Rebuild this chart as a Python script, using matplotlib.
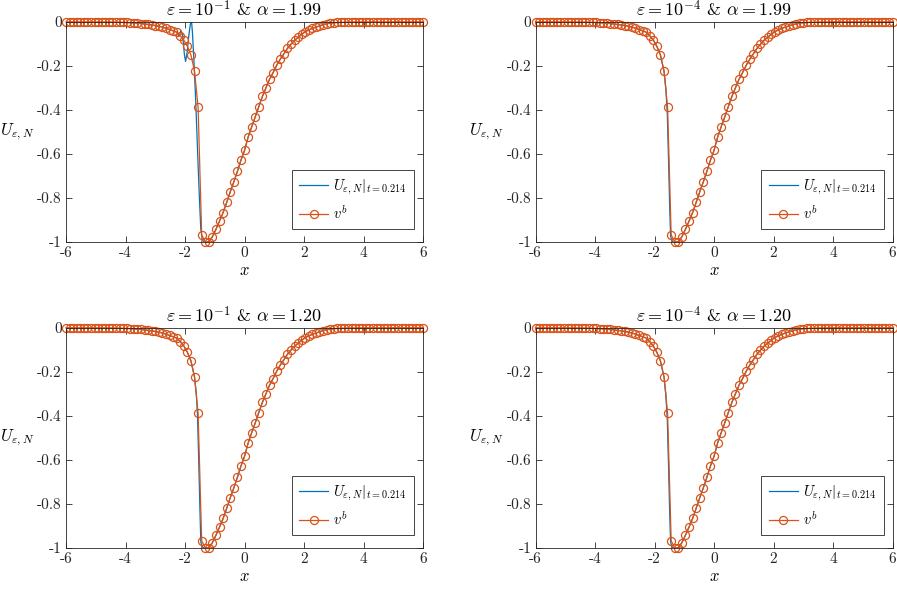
import numpy as np
import matplotlib
matplotlib.use("Agg")
import matplotlib.pyplot as plt

plt.rcParams["mathtext.fontset"] = "cm"
plt.rcParams["axes.unicode_minus"] = False

# grid of the reference solution v^b (101 nodes on [-6, 6])
x_grid = np.linspace(-6, 6, 101)

# v^b values, left tail -> front -> right tail
v_b = [
    0, 0, 0, 0, 0, 0, 0, 0, -0.0002, -0.0003, -0.0004, -0.0005, -0.0007, -0.0009, -0.0012, -0.0015,
    -0.0025, -0.003, -0.004, -0.005, -0.006, -0.008, -0.010, -0.012, -0.014, -0.017, -0.020, -0.024,
    -0.029, -0.035, -0.041, -0.047, -0.063, -0.083, -0.112, -0.151, -0.224, -0.389, -0.967,
    -1.000, -0.998, -0.976, -0.942, -0.905, -0.866, -0.820, -0.772, -0.727, -0.679, -0.628,
    -0.584, -0.524, -0.477, -0.432, -0.385, -0.339, -0.300, -0.261, -0.231, -0.198, -0.170,
    -0.146, -0.121, -0.102, -0.084, -0.071, -0.057, -0.045, -0.037, -0.030, -0.024, -0.019,
    -0.013, -0.009, -0.006, -0.004, -0.003, -0.002, -0.0015, -0.001, -0.0007, -0.0005,
    -0.0003, -0.0002, -0.0001, -0.0001,
    -0.0001, -0.0001, 0, 0, 0, 0, 0, 0, 0, 0, 0, 0, 0, 0, 0,
]
v_b = np.array(v_b)
assert len(v_b) == len(x_grid)

# U_{eps,N} differs from v^b only around the front; these are the front points
front_x_e1_a199 = [-2.28, -2.20, -2.14, -2.08, -2.02, -1.98, -1.93, -1.87, -1.82, -1.78, -1.75,
                   -1.70, -1.64, -1.58, -1.52, -1.47, -1.42, -1.36]
front_y_e1_a199 = [-0.047, -0.065, -0.040, -0.060, -0.150, -0.180, -0.140, -0.060, -0.010, 0.0, -0.050,
                   -0.180, -0.360, -0.580, -0.790, -0.940, -0.990, -1.0]
front_x_e4_a199 = [-1.68, -1.62, -1.57, -1.53, -1.49, -1.46, -1.42, -1.36]
front_y_e4_a199 = [-0.224, -0.300, -0.420, -0.620, -0.840, -0.970, -0.995, -1.0]
front_x_e1_a120 = [-1.68, -1.62, -1.58, -1.54, -1.50, -1.47, -1.43, -1.36]
front_y_e1_a120 = [-0.224, -0.300, -0.400, -0.600, -0.820, -0.970, -0.995, -1.0]
front_x_e4_a120 = [-1.68, -1.62, -1.57, -1.53, -1.49, -1.46, -1.42, -1.36]
front_y_e4_a120 = [-0.224, -0.300, -0.420, -0.620, -0.840, -0.970, -0.995, -1.0]

titles = [r"$\varepsilon = 10^{-1}$ & $\alpha = 1.99$", r"$\varepsilon = 10^{-4}$ & $\alpha = 1.99$",
          r"$\varepsilon = 10^{-1}$ & $\alpha = 1.20$", r"$\varepsilon = 10^{-4}$ & $\alpha = 1.20$"]
fronts = [(front_x_e1_a199, front_y_e1_a199), (front_x_e4_a199, front_y_e4_a199),
          (front_x_e1_a120, front_y_e1_a120), (front_x_e4_a120, front_y_e4_a120)]

x_ticks = [-6, -4, -2, 0, 2, 4, 6]
x_ticklabels = ["-6", "-4", "-2", "0", "2", "4", "6"]
y_ticks = [-1, -0.8, -0.6, -0.4, -0.2, 0]
y_ticklabels = ["-1", "-0.8", "-0.6", "-0.4", "-0.2", "0"]

blue = (0, 0.447, 0.741)
orange = (0.85, 0.325, 0.098)
axcol = "0.15"

fig = plt.figure(figsize=(8.97, 5.89), dpi=100)
positions = [(0.0736, 0.589, 0.398, 0.374), (0.597, 0.589, 0.398, 0.374),
             (0.0736, 0.0696, 0.398, 0.374), (0.597, 0.0696, 0.398, 0.374)]

for pos, title, (fx, fy) in zip(positions, titles, fronts):
    ax = fig.add_axes(pos)
    fx = np.array(fx)
    fy = np.array(fy)
    left = x_grid < fx[0]
    right = x_grid > fx[-1]
    u_x = np.concatenate([x_grid[left], fx, x_grid[right]])
    u_y = np.concatenate([v_b[left], fy, v_b[right]])

    ax.plot(u_x, u_y, color=blue, lw=0.9, label=r"$U_{\varepsilon,N}|_{t=0.214}$")
    ax.plot(x_grid, v_b, color=orange, lw=0.9, marker="o", ms=5.8, mfc="none", mew=0.9,
            label=r"$v^b$", clip_on=False)

    ax.set_xlim(-6, 6)
    ax.set_ylim(-1, 0)
    ax.set_xticks(x_ticks)
    ax.set_xticklabels(x_ticklabels, fontfamily="cmr10", fontsize=11)
    ax.set_yticks(y_ticks)
    ax.set_yticklabels(y_ticklabels, fontfamily="cmr10", fontsize=11)
    ax.tick_params(direction="in", length=4, width=0.6, colors=axcol, labelcolor=axcol,
                   top=True, right=True, pad=3)
    for sp in ax.spines.values():
        sp.set_color(axcol)
        sp.set_linewidth(0.6)
    ax.set_title(title, fontsize=13, pad=4, fontfamily="cmr10")
    ax.set_xlabel(r"$x$", fontsize=12, labelpad=1)
    ax.set_ylabel(r"$U_{\varepsilon,N}$", fontsize=12, rotation=0, labelpad=2, va="center", ha="right")

    leg = ax.legend(loc="lower right", bbox_to_anchor=(0.975, 0.059), fontsize=10.5,
                    fancybox=False, edgecolor=axcol, framealpha=1, handlelength=2.0,
                    handletextpad=0.35, borderaxespad=0, borderpad=0.5, labelspacing=0.5)
    leg.get_frame().set_linewidth(0.6)

fig.savefig("out.png", dpi=100)
